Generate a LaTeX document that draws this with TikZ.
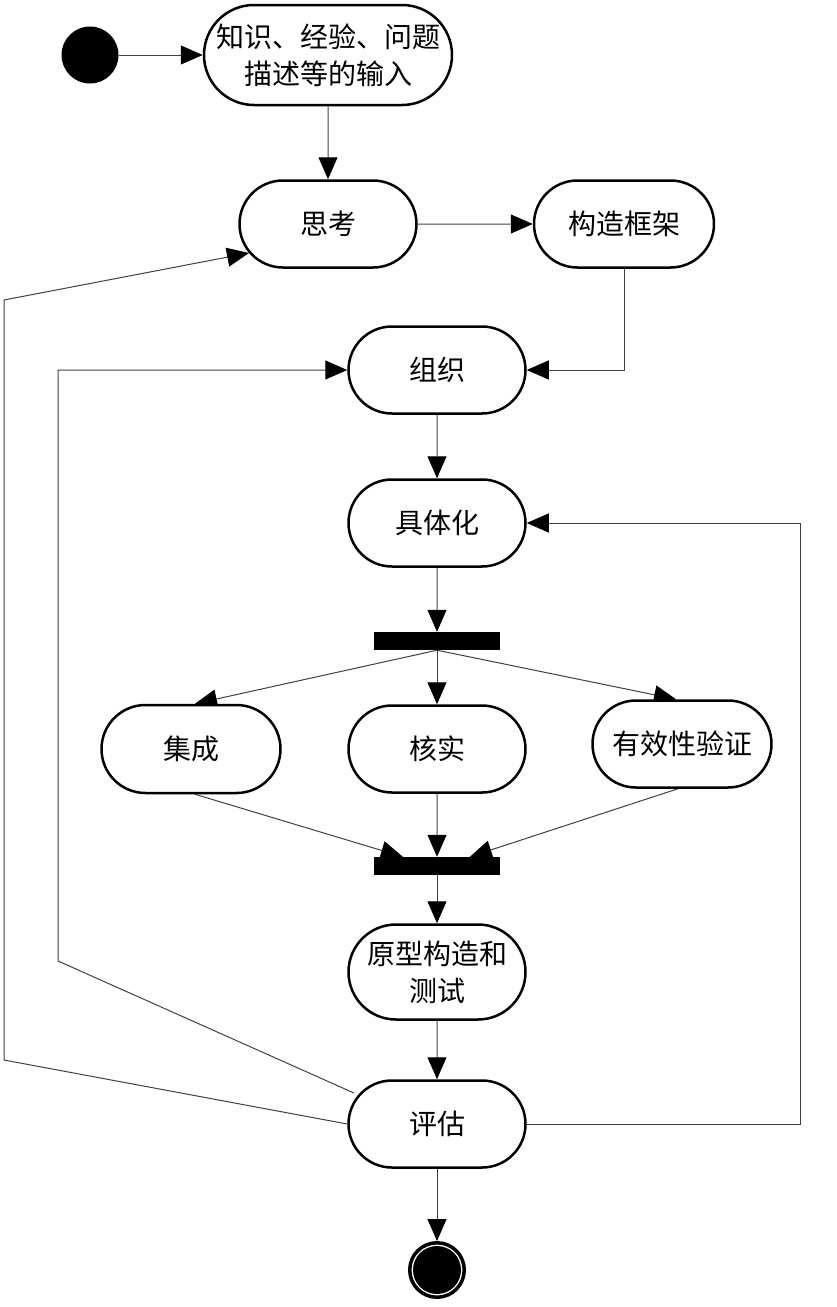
\documentclass[tikz,border=0pt]{standalone}
\usepackage{fontspec}
\newfontfamily\cjk{Noto Sans CJK SC}
\usetikzlibrary{arrows.meta,shapes.misc,calc}

\begin{document}
\begin{tikzpicture}[x=1pt,y=-1pt]
      \tikzstyle{act}=[draw, rounded rectangle, line width=2.5pt, fill=white, minimum width=181pt, minimum height=87pt, inner sep=2pt, align=center, font=\cjk\fontsize{28}{37}\selectfont];
      \tikzstyle{bar}=[fill, rectangle, minimum width=126pt, minimum height=18pt, inner sep=0pt];
      \tikzstyle{flow}=[line width=1pt, draw=black!75, -{Triangle[length=22pt,width=19pt,color=black]}];

      \pgfdeclarelayer{background}
      \pgfsetlayers{background,main}

      \useasboundingbox (0,0) rectangle (836,1307);

      \node[circle, fill, minimum size=57pt, inner sep=0pt] (start) at (90,55) {};
      \node[act, minimum width=252pt, minimum height=100pt] (input) at (328,55) {知识、经验、问题\\描述等的输入};
      \node[act] (think) at (328,224) {思考};
      \node[act, minimum width=184pt] (frame) at (624,224) {构造框架};
      \node[act] (organize) at (437,370) {组织};
      \node[act] (concrete) at (437,523) {具体化};
      \node[bar] (fork) at (437,641) {};
      \node[act, minimum width=183pt, minimum height=88pt] (integrate) at (191,749) {集成};
      \node[act] (verify) at (437,749) {核实};
      \node[act, minimum width=183pt] (validate) at (682,744) {有效性验证};
      \node[bar] (join) at (437,866) {};
      \node[act, minimum height=95pt] (proto) at (437,972) {原型构造和\\测试};
      \node[act] (assess) at (437,1124) {评估};
      \node[circle, draw, line width=3.5pt, minimum size=54.5pt, inner sep=0pt] (finish) at (437,1270) {};
      \node[circle, fill, minimum size=48pt, inner sep=0pt] (finishdot) at (finish) {};

      \coordinate (joinl) at ($(join.north west)!.23!(join.north east)$);
      \coordinate (joinr) at ($(join.north west)!.76!(join.north east)$);
      \coordinate (rback) at (800,1124);
      \coordinate (lowin) at (58,961);
      \coordinate (lowout) at (4,1060);
      \coordinate (topout) at (4,300);

      \begin{pgfonlayer}{background}
        \draw[flow] (start) -- (input);
        \draw[flow] (input) -- (think);
        \draw[flow] (think) -- (frame);
        \draw[flow] (frame.south) |- (organize.east);
        \draw[flow] (organize) -- (concrete);
        \draw[flow] (concrete) -- (fork);

        % fork
        \draw[flow] (fork.south) -- ($(integrate.north)+(4,0)$);
        \draw[flow] (fork) -- (verify);
        \draw[flow] (fork.south) -- ($(validate.north)+(-6,0)$);

        % join
        \draw[flow] ($(integrate.south)+(4,0)$) -- (joinl);
        \draw[flow] (verify) -- (join);
        \draw[flow] ($(validate.south)+(-4,0)$) -- (joinr);

        \draw[flow] (join) -- (proto);
        \draw[flow] (proto) -- (assess);
        \draw[flow] (assess) -- (finish);

        % loops back
        \draw[flow] (assess.east) -- (rback) |- (concrete.east);
        \draw[flow] ($(assess.center)+(-83,-31)$) -- (lowin) |- (organize.west);
        \draw[flow] (assess.west) -- (lowout) -- (topout) -- ($(think.center)+(-79,29)$);
      \end{pgfonlayer}
\end{tikzpicture}
\end{document}
